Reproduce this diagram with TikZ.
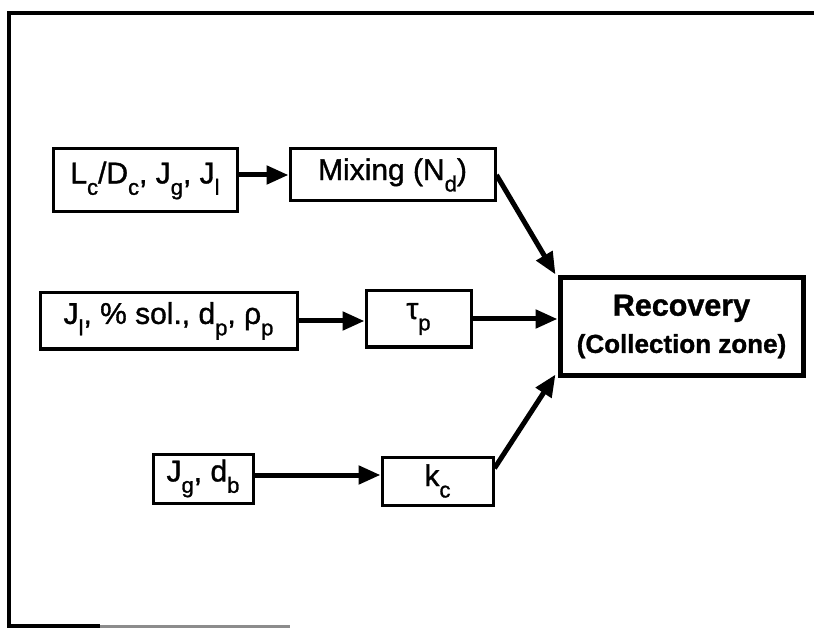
\documentclass[tikz,border=0pt]{standalone}
\usepackage{fontspec}
\setmainfont{Liberation Sans}[FakeBold=1.2]
\usetikzlibrary{arrows.meta,calc}
\newcommand\sbx[1]{\raisebox{-0.38em}{\fontsize{22}{22}\selectfont #1}}
\begin{document}
\begin{tikzpicture}[x=1pt,y=-1pt,
  box/.style={draw, line width=3pt, inner sep=0pt, font=\fontsize{30}{32}\selectfont},
  recbox/.style={draw, line width=5pt, inner sep=0pt, align=center},
  arr/.style={line width=5pt, -{Triangle[length=22pt,width=18pt]}},
  frame/.style={line width=4pt}]
\useasboundingbox (0,0) rectangle (814,628);
% frame (right side lies outside the picture)
\draw[frame] (814,13) -- (9,13) -- (9,626) -- (100,626);
\draw[line width=3pt, black!45] (100,626) -- (290,626);
% nodes
\node[box, minimum width=184pt, minimum height=63pt] (b1) at (145,180.5) {\raisebox{-3pt}{L\sbx{c}/D\sbx{c}, J\sbx{g}, J\sbx{l}}};
\node[box, minimum width=205pt, minimum height=52pt] (mix) at (392.5,175) {\raisebox{-2pt}{Mixing (N\sbx{d})}};
\node[box, minimum width=257pt, minimum height=56pt] (b2) at (168.5,321) {\raisebox{-3pt}{J\sbx{l}, \% sol., d\sbx{p}, ρ\sbx{p}}};
\node[box, minimum width=105pt, minimum height=56pt] (tau) at (418.5,319) {\raisebox{-3pt}{τ\sbx{p}}};
\node[recbox, minimum width=243pt, minimum height=97pt] (rec) at (681.5,326.5)
  {\fontsize{30.5}{34}\selectfont\bfseries Recovery\\[11pt]\fontsize{26}{30}\selectfont\bfseries (Collection zone)};
\node[box, minimum width=100pt, minimum height=49pt] (b3) at (203,478.5) {\raisebox{-3pt}{J\sbx{g}, d\sbx{b}}};
\node[box, minimum width=111pt, minimum height=48pt] (kc) at (437.5,481) {\raisebox{-3pt}{k\sbx{c}}};
% connectors
\draw[arr] (b1.east |- mix.west) -- (mix.west);
\draw[arr] (b2.east) -- (tau.west |- b2.east);
\draw[arr] (b3.east |- 0,475) -- (kc.west |- 0,475);
\draw[arr] (mix.east) -- ($(rec.north west)+(-2,-1)$);
\draw[arr] (tau.east) -- (rec.west |- tau.east);
\draw[arr] ($(kc.east)!0.5!(kc.north east)$) -- ($(rec.south west)+(-2,-3)$);
\end{tikzpicture}
\end{document}
